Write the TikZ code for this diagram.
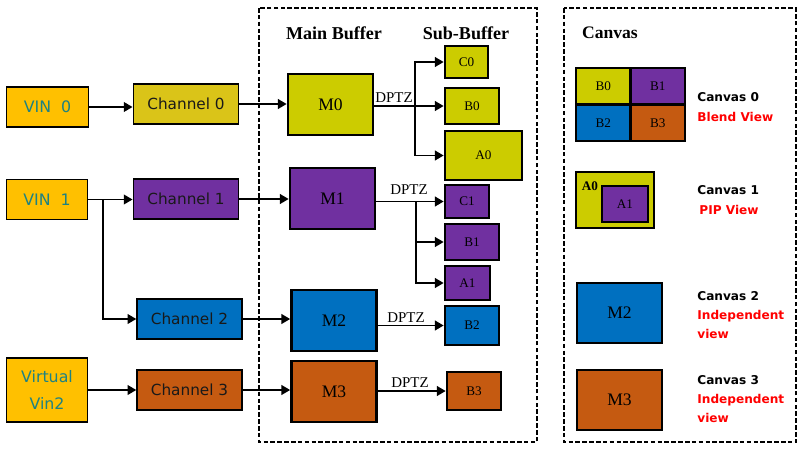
\documentclass[tikz,border=0pt]{standalone}
\usepackage{fontspec}
\setmainfont{Liberation Serif}
\newfontfamily\verd{DejaVu Sans}
\usepackage{tikz}
\usetikzlibrary{arrows,arrows.meta,positioning,calc}
\definecolor{vinorange}{RGB}{255,192,0}
\definecolor{vinteal}{RGB}{30,130,130}
\definecolor{chyellow}{RGB}{218,196,24}
\definecolor{myellow}{RGB}{204,204,0}
\definecolor{mpurple}{RGB}{112,48,160}
\definecolor{mblue}{RGB}{0,112,192}
\definecolor{morange}{RGB}{197,90,17}
\definecolor{viewred}{RGB}{255,0,0}
\tikzstyle{Vin}=[shape=rectangle,draw=black,line width=0.8pt,fill=vinorange,text=vinteal,minimum width=1.63cm,minimum height=0.8cm,align=center,font=\verd\fontsize{9}{15}\selectfont]
\tikzstyle{Chan}=[shape=rectangle,draw=black,line width=0.8pt,minimum width=2.11cm,minimum height=0.8cm,text=black!90,font=\verd\fontsize{8.7}{10}\selectfont]
\tikzstyle{Mbuf}=[shape=rectangle,draw=black,line width=1.5pt,minimum width=1.7cm,minimum height=1.22cm,font=\fontsize{10}{12}\selectfont]
\tikzstyle{Sbuf}=[shape=rectangle,draw=black,line width=1.5pt,font=\fontsize{7.5}{9}\selectfont]
\tikzstyle{Cell}=[shape=rectangle,draw=black,line width=1.5pt,minimum width=1.09cm,minimum height=0.73cm,outer sep=0pt,font=\fontsize{7.5}{9}\selectfont]
\tikzstyle{flow}=[-{Triangle[length=5pt,width=5.5pt]},line width=1.1pt]
\tikzstyle{frame}=[line width=1.6pt,dash pattern=on 2.6pt off 1.3pt]
\tikzstyle{title}=[font=\bfseries\fontsize{10.3}{12}\selectfont]
\tikzstyle{dptz}=[font=\fontsize{8.5}{10}\selectfont,inner sep=0pt]
\tikzstyle{canlabel}=[anchor=west,align=left,inner sep=0pt,font=\verd\bfseries\fontsize{6.9}{11}\selectfont]

\begin{document}
\begin{tikzpicture}[x=0.02cm,y=-0.02cm]
\useasboundingbox (0,0) rectangle (808,453);

\draw[frame] (259,8) rectangle (537,442);
\draw[frame] (564,8) rectangle (796,442);

\node[title] (TMAIN) at (334,33){Main Buffer};
\node[title] (TSUB) at (466,33){Sub-Buffer};
\node[title,font=\bfseries\fontsize{10}{12}\selectfont] (TCAN) at (610,33){Canvas};

% inputs and channels
\node[Vin] (VIN0) at (47.5,107){VIN\ \ 0};
\node[Vin] (VIN1) at (47,199.5){VIN\ \ 1};
\node[Vin,minimum height=1.28cm] (VIN2) at (47,390){Virtual\\Vin2};

\node[Chan,fill=chyellow] (CH0) at (186,104){Channel 0};
\node[Chan,fill=mpurple] (CH1) at (186,199){Channel 1};
\node[Chan,fill=mblue,minimum width=2.1cm] (CH2) at (189.5,319){Channel 2};
\node[Chan,fill=morange,minimum width=2.1cm] (CH3) at (189.5,390){Channel 3};

% main buffers
\node[Mbuf,fill=myellow] (M0) at (330.5,104.5){M0};
\node[Mbuf,fill=mpurple] (M1) at (332.5,198.5){M1};
\node[Mbuf,fill=mblue] (M2) at (334,320.5){M2};
\node[Mbuf,fill=morange] (M3) at (334,391.5){M3};

% sub buffers
\node[Sbuf,fill=myellow,minimum width=0.86cm,minimum height=0.64cm] (C0) at (466.5,62){C0};
\node[Sbuf,fill=myellow,minimum width=1.08cm,minimum height=0.72cm] (B0) at (472,106){B0};
\node[Sbuf,fill=myellow,minimum width=1.54cm,minimum height=0.98cm] (A0) at (483.5,155.5){A0};
\node[Sbuf,fill=mpurple,minimum width=0.88cm,minimum height=0.66cm] (C1) at (467,201.5){C1};
\node[Sbuf,fill=mpurple,minimum width=1.08cm,minimum height=0.72cm] (B1) at (472,242){B1};
\node[Sbuf,fill=mpurple,minimum width=0.9cm,minimum height=0.68cm] (A1) at (467.5,283){A1};
\node[Sbuf,fill=mblue,minimum width=1.08cm,minimum height=0.78cm] (B2) at (472,325.5){B2};
\node[Sbuf,fill=morange,minimum width=1.08cm,minimum height=0.76cm] (B3) at (474,391){B3};

\coordinate (J2) at (103,199.5);
\coordinate (J0) at (415,106);
\coordinate (J1) at (416,201.5);

\path
(VIN0) edge [flow] (CH0.west |- VIN0)
(VIN1) edge [flow] (CH1.west |- VIN1)
(VIN2) edge [flow] (CH3)
(CH0) edge [flow] (M0.west |- CH0)
(CH1) edge [flow] (M1.west |- CH1)
(CH2) edge [flow] (M2.west |- CH2)
(CH3) edge [flow] (M3.west |- CH3)
(M0.east |- J0) edge [line width=1.1pt] (J0)
(J0) edge [flow] (B0)
(M1.east |- J1) edge [flow] (C1)
(M2.east |- B2) edge [flow] (B2)
(M3.east |- B3) edge [flow] (B3);

\draw[flow] (J2) |- (CH2);
\draw[flow] (J0) |- (C0);
\draw[flow] (J0) |- (A0);
\draw[flow] (J1) |- (B1);
\draw[flow] (J1) |- (A1);

\node[dptz] (D0) at (394,98){DPTZ};
\node[dptz] (D1) at (409,190){DPTZ};
\node[dptz] (D2) at (406,318){DPTZ};
\node[dptz] (D3) at (410,383){DPTZ};

% canvas views
\node[Cell,fill=myellow] (K0) at (603.25,86.25){B0};
\node[Cell,fill=mpurple,right=0pt of K0] (K1){B1};
\node[Cell,fill=mblue,below=0pt of K0] (K2){B2};
\node[Cell,fill=morange,below=0pt of K1] (K3){B3};

\node[Sbuf,fill=myellow,minimum width=1.56cm,minimum height=1.12cm] (P0) at (615,200){};
\node[Sbuf,fill=mpurple,minimum width=0.92cm,minimum height=0.72cm] (P1) at (625,204){A1};
\node[font=\bfseries\fontsize{7.5}{9}\selectfont,inner sep=0pt] (PA0) at (590,186){A0};

\node[Mbuf,fill=mblue,minimum height=1.2cm] (V2) at (619.5,313){M2};
\node[Mbuf,fill=morange,minimum height=1.2cm] (V3) at (619.5,400){M3};

\node[canlabel] (L0) at (697,107){Canvas 0\\\textcolor{viewred}{Blend View}};
\node[canlabel] (L1) at (697,200){Canvas 1\\\,\textcolor{viewred}{PIP View}};
\node[canlabel] (L2) at (697,315){Canvas 2\\\textcolor{viewred}{Independent}\\\textcolor{viewred}{view}};
\node[canlabel] (L3) at (697,399){Canvas 3\\\textcolor{viewred}{Independent}\\\textcolor{viewred}{view}};

\end{tikzpicture}
\end{document}
